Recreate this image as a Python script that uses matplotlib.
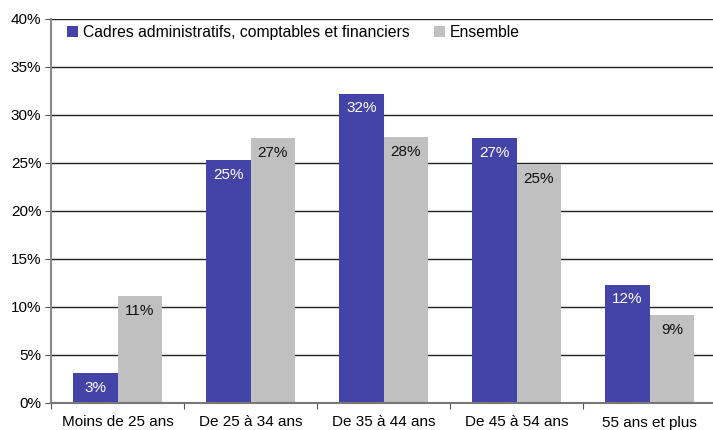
import numpy as np
import matplotlib.pyplot as plt

categories = ['Moins de 25 ans', 'De 25 à 34 ans', 'De 35 à 44 ans', 'De 45 à 54 ans', '55 ans et plus']
cadres = [3.1, 25.3, 32.2, 27.6, 12.3]
ensemble = [11.1, 27.6, 27.7, 24.9, 9.2]
cadres_labels = ['3%', '25%', '32%', '27%', '12%']
ensemble_labels = ['11%', '27%', '28%', '25%', '9%']

plt.rcParams['font.family'] = ['Liberation Sans', 'DejaVu Sans']

blue = '#4443a8'
grey = '#c0c0c0'
fs = 11

fig = plt.figure(figsize=(7.13, 4.30), dpi=100)
# axes runs slightly past the right edge, like the original
ax = fig.add_axes([51/713, 27/430, 665/713, 384/430])

x = np.arange(len(categories))
w = 0.335
b1 = ax.bar(x - w/2, cadres, w, color=blue, label='Cadres administratifs, comptables et financiers', zorder=2)
b2 = ax.bar(x + w/2, ensemble, w, color=grey, label='Ensemble', zorder=2)

for rect, lab in zip(b1, cadres_labels):
    ax.annotate(lab, (rect.get_x() + rect.get_width()/2, rect.get_height()),
                xytext=(0, -14.5), textcoords='offset pixels', ha='center', va='center',
                color='white', fontsize=fs)
for rect, lab in zip(b2, ensemble_labels):
    ax.annotate(lab, (rect.get_x() + rect.get_width()/2, rect.get_height()),
                xytext=(0, -15), textcoords='offset pixels', ha='center', va='center',
                color='#111111', fontsize=fs)

ax.set_xlim(-0.5, len(categories) - 0.5)
ax.set_ylim(0, 40)
ax.set_yticks(np.arange(0, 41, 5))
ax.set_yticklabels([f'{v}%' for v in range(0, 41, 5)], fontsize=fs)
ax.yaxis.grid(True, color='#222222', linewidth=1, zorder=0)
ax.set_axisbelow(True)

ax.set_xticks(np.arange(len(categories) + 1) - 0.5)
ax.set_xticklabels([])
ax.set_xticks(x, minor=True)
ax.set_xticklabels(categories, minor=True, fontsize=fs)
ax.tick_params(axis='x', which='minor', length=0, pad=9)
ax.tick_params(axis='x', which='major', length=4, color='#555555', direction='out')
ax.tick_params(axis='y', length=4, color='#555555', pad=3)

for s in ['top', 'right']:
    ax.spines[s].set_visible(False)
ax.spines['left'].set_color('#888888')
ax.spines['left'].set_linewidth(1.5)
ax.spines['bottom'].set_color('#777777')
ax.spines['bottom'].set_linewidth(1.5)
ax.spines['bottom'].set_zorder(3)

ax.legend(loc='upper left', bbox_to_anchor=(0.008, 1.012), ncol=2, frameon=False,
          fontsize=11.3, handlelength=0.7, handleheight=0.7, handletextpad=0.3,
          columnspacing=1.55, borderaxespad=0.3)

fig.savefig('out.png', dpi=100)
